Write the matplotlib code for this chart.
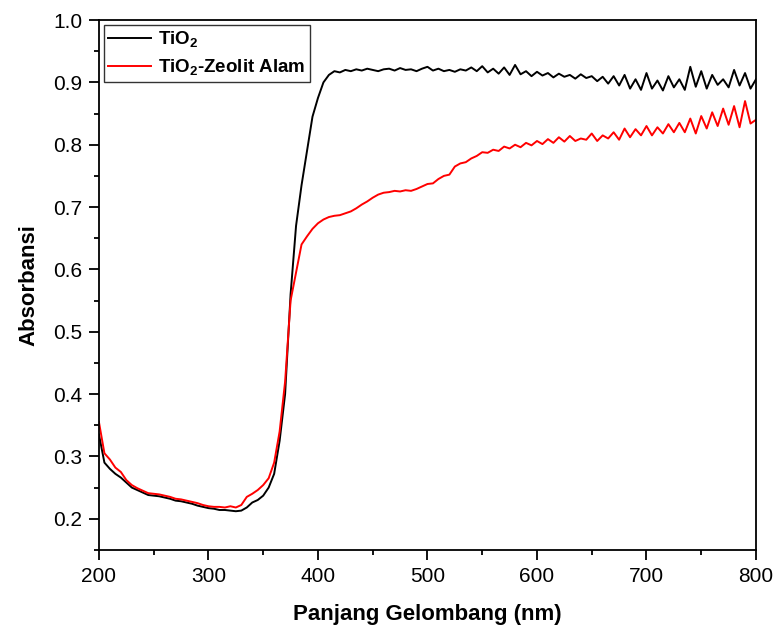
import numpy as np
import matplotlib
matplotlib.use('Agg')
import matplotlib.pyplot as plt
from matplotlib.ticker import MultipleLocator, FormatStrFormatter

plt.rcParams['font.family'] = ['Liberation Sans', 'DejaVu Sans']
plt.rcParams['mathtext.fontset'] = 'custom'
plt.rcParams['mathtext.rm'] = 'Liberation Sans'
plt.rcParams['mathtext.bf'] = 'Liberation Sans:bold'

# wavelength grid (nm), 5 nm steps
wavelength = np.arange(200, 801, 5)

tio2 = [
    0.335, 0.290, 0.280, 0.272, 0.266, 0.258, 0.250, 0.246, 0.242, 0.238,  # 200-245
    0.237, 0.236, 0.234, 0.232, 0.229, 0.228, 0.226, 0.224, 0.221, 0.219,  # 250-295
    0.217, 0.216, 0.214, 0.214, 0.213, 0.212, 0.213, 0.218, 0.226, 0.230,  # 300-345
    0.237, 0.250, 0.272, 0.325, 0.400, 0.560, 0.670, 0.735, 0.790, 0.845,  # 350-395
    0.875, 0.900, 0.912, 0.918, 0.916, 0.920, 0.918, 0.921, 0.919, 0.922,  # 400-445
    0.920, 0.918, 0.921, 0.922, 0.919, 0.923, 0.920, 0.921, 0.918, 0.922,  # 450-495
    0.925, 0.919, 0.922, 0.918, 0.920, 0.917, 0.921, 0.919, 0.924, 0.918,  # 500-545
    0.926, 0.916, 0.922, 0.914, 0.924, 0.912, 0.928, 0.913, 0.918, 0.910,  # 550-595
    0.917, 0.911, 0.915, 0.908, 0.914, 0.909, 0.912, 0.906, 0.913, 0.907,  # 600-645
    0.910, 0.902, 0.909, 0.898, 0.910, 0.895, 0.912, 0.890, 0.905, 0.888,  # 650-695
    0.915, 0.890, 0.903, 0.887, 0.910, 0.892, 0.905, 0.888, 0.925, 0.893,  # 700-745
    0.918, 0.890, 0.912, 0.896, 0.905, 0.892, 0.920, 0.895, 0.915, 0.890,  # 750-795
    0.905,
]

tio2_zeolit = [
    0.355, 0.305, 0.295, 0.282, 0.275, 0.262, 0.254, 0.249, 0.245, 0.241,  # 200-245
    0.240, 0.239, 0.237, 0.235, 0.232, 0.231, 0.229, 0.227, 0.225, 0.222,  # 250-295
    0.220, 0.219, 0.219, 0.218, 0.220, 0.218, 0.222, 0.235, 0.240, 0.246,  # 300-345
    0.254, 0.265, 0.290, 0.340, 0.420, 0.550, 0.595, 0.640, 0.653, 0.665,  # 350-395
    0.674, 0.680, 0.684, 0.686, 0.687, 0.690, 0.693, 0.698, 0.704, 0.709,  # 400-445
    0.715, 0.720, 0.723, 0.724, 0.726, 0.725, 0.727, 0.726, 0.729, 0.733,  # 450-495
    0.737, 0.738, 0.745, 0.750, 0.752, 0.765, 0.770, 0.772, 0.778, 0.782,  # 500-545
    0.788, 0.787, 0.792, 0.790, 0.797, 0.794, 0.800, 0.796, 0.803, 0.799,  # 550-595
    0.806, 0.801, 0.809, 0.803, 0.812, 0.805, 0.814, 0.806, 0.810, 0.808,  # 600-645
    0.818, 0.806, 0.815, 0.810, 0.820, 0.808, 0.826, 0.812, 0.825, 0.815,  # 650-695
    0.830, 0.815, 0.828, 0.818, 0.833, 0.820, 0.835, 0.820, 0.842, 0.818,  # 700-745
    0.846, 0.826, 0.852, 0.830, 0.858, 0.832, 0.862, 0.828, 0.870, 0.834,  # 750-795
    0.840,
]

fig = plt.figure(figsize=(7.73, 6.27), dpi=100)
ax = fig.add_axes([0.128, 0.123, 0.85, 0.845])

ax.plot(wavelength, tio2, color='black', lw=1.4, label=r'TiO$_\mathbf{2}$')
ax.plot(wavelength, tio2_zeolit, color='red', lw=1.4,
        label=r'TiO$_\mathbf{2}$-Zeolit Alam')

ax.set_xlim(200, 800)
ax.set_ylim(0.15, 1.0)
ax.xaxis.set_major_locator(MultipleLocator(100))
ax.xaxis.set_minor_locator(MultipleLocator(50))
ax.yaxis.set_major_locator(MultipleLocator(0.1))
ax.yaxis.set_minor_locator(MultipleLocator(0.05))
ax.yaxis.set_major_formatter(FormatStrFormatter('%.1f'))

for s in ax.spines.values():
    s.set_linewidth(1.3)
ax.tick_params(which='major', direction='out', length=7, width=1.3,
               labelsize=15, pad=5)
ax.tick_params(which='minor', direction='out', length=3.5, width=1.3)

ax.set_xlabel('Panjang Gelombang (nm)', fontsize=16, fontweight='bold',
              labelpad=13)
ax.set_ylabel('Absorbansi', fontsize=16, fontweight='bold', labelpad=10)

leg = ax.legend(loc='upper left', fontsize=13.5, frameon=True, fancybox=False,
                edgecolor='black', borderaxespad=0.25, handlelength=2.25,
                handletextpad=0.4, labelspacing=0.4, borderpad=0.25)
leg.get_frame().set_linewidth(1.0)
for t in leg.get_texts():
    t.set_fontweight('bold')

fig.savefig('out.png', dpi=100)
